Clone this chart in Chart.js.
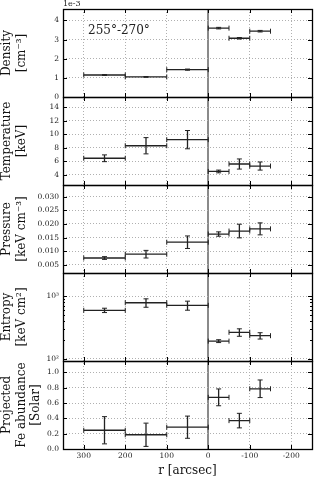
<!DOCTYPE html>
<html><head><meta charset="utf-8">
<script src="https://cdn.jsdelivr.net/npm/chart.js@4/dist/chart.umd.min.js"></script>
<style>html,body{margin:0;padding:0;background:#fff;overflow:hidden}</style>
</head><body>
<canvas id="c" width="319" height="478" style="display:block;width:319px;height:478px"></canvas>
<script>
// ---- data ----
const binLow  = [300, 200, 100, 0, -50, -100];
const binHigh = [200, 100, 0, -50, -100, -150];
const binMid  = [250, 150, 50, -25, -75, -125];

const density        = [0.00115, 0.00105, 0.00143, 0.00360, 0.00307, 0.00344];
const densityErr     = [0.00002, 0.00002, 0.00003, 0.00004, 0.00004, 0.00004];
const temperature    = [6.45, 8.3, 9.2, 4.5, 5.6, 5.3];
const temperatureErr = [0.5, 1.2, 1.35, 0.2, 0.75, 0.6];
const pressure       = [0.0075, 0.0089, 0.0133, 0.0163, 0.0174, 0.0182];
const pressureErr    = [0.0005, 0.0014, 0.0023, 0.0008, 0.0025, 0.0022];
const entropy        = [592, 782, 711, 191, 264, 233];
const entropyErr     = [47, 120, 117, 10, 36, 27];
const feAbundance    = [0.245, 0.186, 0.285, 0.675, 0.371, 0.787];
const feAbundanceErr = [0.178, 0.152, 0.145, 0.11, 0.095, 0.115];

const xTicks        = [300, 200, 100, 0, -100, -200];
const densityTicks  = [0, 0.001, 0.002, 0.003, 0.004];
const tempTicks     = [4, 6, 8, 10, 12, 14];
const pressureTicks = [0.005, 0.010, 0.015, 0.020, 0.025, 0.030];
const entropyTicks  = [100, 1000];
const entropyMinor  = [200, 300, 400, 500, 600, 700, 800, 900];
const feTicks       = [0, 0.2, 0.4, 0.6, 0.8, 1.0];

const xTitle = 'r [arcsec]';
const annotation = '255°-270°';
const densityOffsetLabel = '1e-3';

// ---- build datasets ----
const INK = '#222';
function hBars(vals, axis) {
  return {
    yAxisID: axis,
    data: vals.flatMap((v, i) => [{x: binLow[i], y: v}, {x: binHigh[i], y: v}, {x: binHigh[i], y: null}]),
    borderColor: INK, borderWidth: 1.3, spanGaps: false, fill: false,
    pointStyle: 'line', pointRotation: 90, pointRadius: 2.5,
    pointBorderColor: INK, pointBorderWidth: 1, pointBackgroundColor: INK
  };
}
function vBars(vals, errs, axis) {
  return {
    yAxisID: axis,
    data: vals.flatMap((v, i) => [{x: binMid[i], y: v - errs[i]}, {x: binMid[i], y: v + errs[i]}, {x: binMid[i], y: null}]),
    borderColor: INK, borderWidth: 1.3, spanGaps: false, fill: false,
    pointStyle: 'line', pointRotation: 0, pointRadius: 2.5,
    pointBorderColor: INK, pointBorderWidth: 1, pointBackgroundColor: INK
  };
}
const datasets = [
  hBars(density, 'yD'), vBars(density, densityErr, 'yD'),
  hBars(temperature, 'yT'), vBars(temperature, temperatureErr, 'yT'),
  hBars(pressure, 'yP'), vBars(pressure, pressureErr, 'yP'),
  hBars(entropy, 'yS'), vBars(entropy, entropyErr, 'yS'),
  hBars(feAbundance, 'yF'), vBars(feAbundance, feAbundanceErr, 'yF')
];

const SERIF = "'DejaVu Serif', serif";
const tickFont = {family: SERIF, size: 7.5};
const titleFont = {family: SERIF, size: 12};
const GRID = '#b0b0b0';
const Y_WIDTH = 63;

function yScale(ticksArr, min, max, title, fmt, type) {
  return {
    type: type || 'linear', position: 'left', stack: 'panels', stackWeight: 1, offset: false,
    min: min, max: max,
    afterBuildTicks: s => { s.ticks = ticksArr.map(v => ({value: v})); },
    afterFit: s => { s.width = Y_WIDTH; },
    ticks: {font: tickFont, color: '#222', padding: 4, callback: fmt, autoSkip: false, maxRotation: 0},
    grid: {color: GRID, lineWidth: 1, drawTicks: false},
    border: {display: false, dash: [1, 2]},
    title: {display: true, text: title, font: titleFont, color: '#111', padding: {top: 0, bottom: 0}}
  };
}
const sup = {2: '²', 3: '³'};

const framePlugin = {
  id: 'frame',
  afterDraw(chart) {
    const ctx = chart.ctx, ca = chart.chartArea;
    const ids = ['yD', 'yT', 'yP', 'yS', 'yF'];
    const xs = chart.scales.x;
    ctx.save();
    ctx.strokeStyle = '#000';
    ctx.lineWidth = 1;
    ids.forEach(id => {
      const s = chart.scales[id];
      // tick marks inside (left and right)
      ctx.beginPath();
      s.ticks.forEach(t => {
        const y = Math.round(s.getPixelForValue(t.value)) + 0.5;
        if (y < s.top + 1 || y > s.bottom - 1) return;
        ctx.moveTo(ca.left, y); ctx.lineTo(ca.left + 4, y);
        ctx.moveTo(ca.right, y); ctx.lineTo(ca.right - 4, y);
      });
      if (id === 'yS') {
        entropyMinor.forEach(v => {
          const y = Math.round(s.getPixelForValue(v)) + 0.5;
          ctx.moveTo(ca.left, y); ctx.lineTo(ca.left + 2, y);
          ctx.moveTo(ca.right, y); ctx.lineTo(ca.right - 2, y);
        });
      }
      xTicks.forEach(v => {
        const x = Math.round(xs.getPixelForValue(v)) + 0.5;
        ctx.moveTo(x, s.bottom); ctx.lineTo(x, s.bottom - 4);
        ctx.moveTo(x, s.top); ctx.lineTo(x, s.top + 4);
      });
      ctx.stroke();
      ctx.lineWidth = 1.3;
      ctx.strokeRect(Math.round(ca.left) + 0.5, Math.round(s.top) + 0.5, Math.round(ca.right - ca.left), Math.round(s.bottom - s.top));
      ctx.lineWidth = 1;
    });
    // offset text and annotation
    ctx.fillStyle = '#222';
    ctx.font = "8px " + SERIF;
    ctx.textAlign = 'left'; ctx.textBaseline = 'bottom';
    ctx.fillText(densityOffsetLabel, ca.left, ca.top - 1);
    ctx.font = "12px " + SERIF;
    ctx.textBaseline = 'middle';
    ctx.fillText(annotation, ca.left + 25, ca.top + 22);
    ctx.restore();
  }
};

new Chart(document.getElementById('c'), {
  type: 'line',
  data: {datasets: datasets},
  plugins: [framePlugin],
  options: {
    responsive: false, devicePixelRatio: 1, animation: false,
    layout: {padding: {top: 9, right: 7, left: 0, bottom: 0}},
    plugins: {legend: {display: false}, tooltip: {enabled: false}},
    elements: {line: {tension: 0}},
    scales: {
      x: {
        type: 'linear', reverse: true, min: -250, max: 350, position: 'bottom',
        afterBuildTicks: s => { s.ticks = xTicks.map(v => ({value: v})); },
        afterFit: s => { s.height = 29; },
        ticks: {font: tickFont, color: '#222', padding: 3, autoSkip: false, maxRotation: 0, callback: v => String(v)},
        grid: {
          drawTicks: false,
          color: c => (c.tick && c.tick.value === 0) ? '#8a8a8a' : GRID,
          lineWidth: c => (c.tick && c.tick.value === 0) ? 2 : 1
        },
        border: {display: false, dash: c => (c.tick && c.tick.value === 0) ? [] : [1, 2]},
        title: {display: true, text: xTitle, font: titleFont, color: '#111', padding: {top: 0, bottom: 0}}
      },
      yF: yScale(feTicks, 0, 1.15, ['Projected', 'Fe abundance', '[Solar]'], v => v.toFixed(1)),
      yS: yScale(entropyTicks, 92, 2330, ['Entropy', '[keV cm²]'], v => '10' + sup[Math.round(Math.log10(v))], 'logarithmic'),
      yP: yScale(pressureTicks, 0.002, 0.0343, ['Pressure', '[keV cm⁻³]'], v => v.toFixed(3)),
      yT: yScale(tempTicks, 2.5, 15.5, ['Temperature', '[keV]'], v => String(v)),
      yD: yScale(densityTicks, 0, 0.0046, ['Density', '[cm⁻³]'], v => String(Math.round(v / 1e-3)))
    }
  }
});
</script>
</body></html>
